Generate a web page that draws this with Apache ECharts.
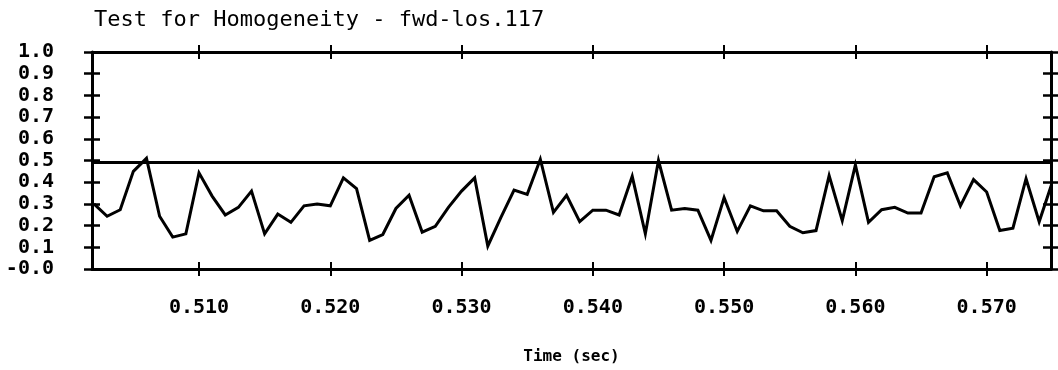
<!DOCTYPE html>
<html>
<head>
<meta charset="utf-8">
<title>Test for Homogeneity - fwd-los.117</title>
<script src="https://cdn.jsdelivr.net/npm/echarts@6/dist/echarts.min.js"></script>
<style>
  html, body { margin: 0; padding: 0; background: #fff; }
  #chart { width: 1058px; height: 370px; }
</style>
</head>
<body>
<div id="chart"></div>
<script>
// Sample times (s), one every millisecond
const times = [
  0.502, 0.503, 0.504, 0.505, 0.506, 0.507, 0.508, 0.509, 0.510, 0.511,
  0.512, 0.513, 0.514, 0.515, 0.516, 0.517, 0.518, 0.519, 0.520, 0.521,
  0.522, 0.523, 0.524, 0.525, 0.526, 0.527, 0.528, 0.529, 0.530, 0.531,
  0.532, 0.533, 0.534, 0.535, 0.536, 0.537, 0.538, 0.539, 0.540, 0.541,
  0.542, 0.543, 0.544, 0.545, 0.546, 0.547, 0.548, 0.549, 0.550, 0.551,
  0.552, 0.553, 0.554, 0.555, 0.556, 0.557, 0.558, 0.559, 0.560, 0.561,
  0.562, 0.563, 0.564, 0.565, 0.566, 0.567, 0.568, 0.569, 0.570, 0.571,
  0.572, 0.573, 0.574, 0.575
];

// Homogeneity statistic at each sample time
const homogeneity = [
  0.300, 0.243, 0.273, 0.450, 0.510, 0.243, 0.147, 0.162, 0.443, 0.336,
  0.249, 0.284, 0.359, 0.162, 0.253, 0.215, 0.291, 0.299, 0.291, 0.420,
  0.370, 0.132, 0.159, 0.279, 0.340, 0.170, 0.197, 0.284, 0.359, 0.420,
  0.106, 0.238, 0.364, 0.344, 0.506, 0.261, 0.340, 0.218, 0.271, 0.271,
  0.249, 0.427, 0.162, 0.500, 0.271, 0.279, 0.271, 0.132, 0.329, 0.173,
  0.291, 0.268, 0.268, 0.197, 0.167, 0.177, 0.430, 0.223, 0.480, 0.215,
  0.273, 0.284, 0.258, 0.258, 0.425, 0.443, 0.291, 0.412, 0.355, 0.177,
  0.188, 0.416, 0.218, 0.400
];

// Acceptance threshold drawn across the plot
const threshold = 0.49;

// Axis ticks and their labels
const xTicks = [0.510, 0.520, 0.530, 0.540, 0.550, 0.560, 0.570];
const xTickLabels = ['0.510', '0.520', '0.530', '0.540', '0.550', '0.560', '0.570'];
const yTicks = [0, 0.1, 0.2, 0.3, 0.4, 0.5, 0.6, 0.7, 0.8, 0.9, 1.0];
const yTickLabels = ['-0.0', '0.1', '0.2', '0.3', '0.4', '0.5', '0.6', '0.7', '0.8', '0.9', '1.0'];

const X_MIN = 0.50185, X_MAX = 0.5749;
const INK = '#000';
const MONO = '"DejaVu Sans Mono", "Liberation Mono", monospace';

// Each frame side gets two axes: one with ticks outside, one with ticks inside,
// so the tick marks cross the frame line.
function xAxisDef(position, inside, withLine, withLabels) {
  return {
    type: 'value', position: position, min: X_MIN, max: X_MAX,
    splitLine: { show: false },
    axisLine: { show: withLine, onZero: false, lineStyle: { color: INK, width: 3 } },
    axisTick: { show: true, inside: inside, length: 7, customValues: xTicks,
                lineStyle: { color: INK, width: 2 } },
    axisLabel: withLabels ? {
      show: true, customValues: xTicks, margin: 29,
      color: INK, fontFamily: MONO, fontWeight: 'bold', fontSize: 20,
      formatter: function (v) {
        const i = xTicks.findIndex(t => Math.abs(t - v) < 1e-6);
        return i >= 0 ? xTickLabels[i] : '';
      }
    } : { show: false },
    name: withLabels ? 'Time (sec)' : '',
    nameLocation: 'middle', nameGap: 80,
    nameTextStyle: { color: INK, fontFamily: MONO, fontWeight: 'bold', fontSize: 16 }
  };
}

function yAxisDef(position, inside, withLine, withLabels) {
  return {
    type: 'value', position: position, min: 0, max: 1, interval: 0.1,
    splitLine: { show: false },
    axisLine: { show: withLine, onZero: false, lineStyle: { color: INK, width: 3 } },
    axisTick: { show: true, inside: inside, length: 8, lineStyle: { color: INK, width: 2.5 } },
    axisLabel: withLabels ? {
      show: true, margin: 38, color: INK, fontFamily: MONO, fontWeight: 'bold', fontSize: 20,
      formatter: function (v) {
        const i = yTicks.findIndex(t => Math.abs(t - v) < 1e-6);
        return i >= 0 ? yTickLabels[i] : '';
      }
    } : { show: false }
  };
}

const chart = echarts.init(document.getElementById('chart'), null, { renderer: 'canvas' });
chart.setOption({
  animation: false,
  backgroundColor: '#fff',
  title: {
    text: 'Test for Homogeneity - fwd-los.117',
    left: 94, top: 9, padding: 0,
    textStyle: { color: INK, fontFamily: MONO, fontWeight: 'normal', fontSize: 22 }
  },
  grid: { left: 92, right: 7, top: 52, bottom: 98.5, containLabel: false },
  xAxis: [
    xAxisDef('bottom', false, true, true),
    xAxisDef('bottom', true, false, false),
    xAxisDef('top', false, true, false),
    xAxisDef('top', true, false, false)
  ],
  yAxis: [
    yAxisDef('left', false, true, true),
    yAxisDef('left', true, false, false),
    yAxisDef('right', false, true, false),
    yAxisDef('right', true, false, false)
  ],
  series: [{
    type: 'line',
    xAxisIndex: 0, yAxisIndex: 0,
    data: times.map((t, i) => [t, homogeneity[i]]),
    showSymbol: false,
    clip: true,
    lineStyle: { color: INK, width: 3, join: 'miter' },
    markLine: {
      silent: true, symbol: 'none', label: { show: false },
      lineStyle: { color: INK, width: 3, type: 'solid' },
      data: [{ yAxis: threshold }]
    }
  }]
});
</script>
</body>
</html>
